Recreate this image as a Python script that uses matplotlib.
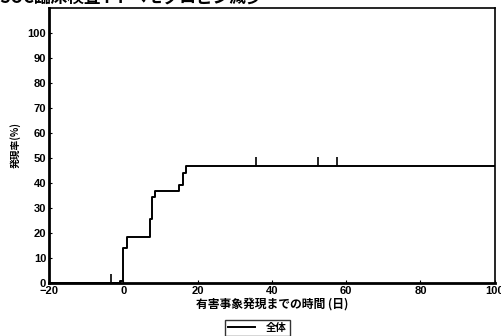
"""Kaplan-Meier style cumulative incidence chart"""

import matplotlib

matplotlib.use("Agg")
import matplotlib.pyplot as plt

plt.rcParams["font.family"] = ["Noto Sans CJK JP", "DejaVu Sans"]

# step curve: day on which the rate changes, and the rate (%) from that day on
event_days = [-20, -1.0, 0.0, 1.0, 7.1, 7.8, 8.6, 15.1, 16.2, 16.9, 100]
event_rates = [0, 0.8, 14.0, 18.5, 25.6, 34.5, 36.9, 39.2, 43.9, 46.9, 46.9]

# censored observations
censor_days = [-3.2, 35.7, 52.5, 57.4]
censor_rates = [0.0, 46.9, 46.9, 46.9]

title = "SOC臨床検査 PT ヘモグロビン減少"
x_label = "有害事象発現までの時間 (日)"
y_label = "発現率(%)"
legend_label = "全体"
x_ticks = [-20, 0, 20, 40, 60, 80, 100]
y_ticks = [0, 10, 20, 30, 40, 50, 60, 70, 80, 90, 100]


def main() -> None:
    fig = plt.figure(figsize=(5.02, 3.36), dpi=100)
    ax = fig.add_axes([0.0976, 0.158, 0.888, 0.818])

    ax.step(event_days, event_rates, where="post", color="black", lw=1.4,
            label=legend_label)
    # censor marks stick up from the curve
    ax.vlines(censor_days, censor_rates, [r + 3.6 for r in censor_rates],
              color="black", lw=1.2)

    ax.set_xlim(-20, 100)
    ax.set_ylim(0, 110)
    ax.set_xticks(x_ticks)
    ax.set_yticks(y_ticks)
    ax.tick_params(direction="in", length=2, width=0.8, pad=2)
    for lab in ax.get_xticklabels() + ax.get_yticklabels():
        lab.set_family(["Liberation Sans", "DejaVu Sans"])
        lab.set_fontweight("bold")
        lab.set_fontsize(8)

    for side in ("left", "bottom"):
        ax.spines[side].set_linewidth(2.0)
    for side in ("top", "right"):
        ax.spines[side].set_linewidth(1.2)

    ax.set_xlabel(x_label, fontsize=8.5, fontweight="bold", labelpad=1)
    ax.set_ylabel(y_label, fontsize=7, fontweight="bold", labelpad=5)

    fig.text(0.0, 1 - 4 / 336, title, fontsize=12, fontweight="bold",
             ha="left", va="baseline")

    leg = ax.legend(loc="lower center", bbox_to_anchor=(0.513, 0.0),
                    bbox_transform=fig.transFigure, fontsize=7.5,
                    frameon=True, fancybox=False, edgecolor="black",
                    borderaxespad=0, handlelength=2.6, borderpad=0.3,
                    handletextpad=1.0)
    leg.get_frame().set_linewidth(1.0)
    for t in leg.get_texts():
        t.set_fontweight("bold")

    fig.savefig("out.png", dpi=100)


if __name__ == "__main__":
    main()
